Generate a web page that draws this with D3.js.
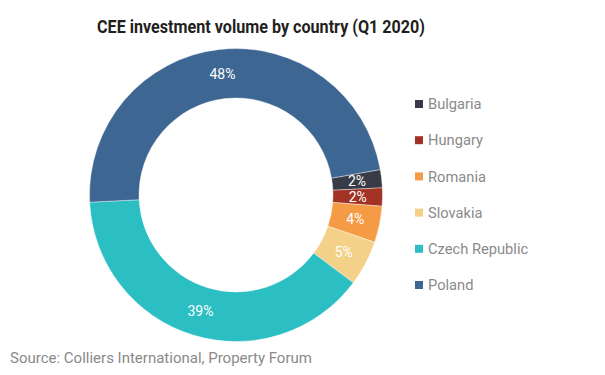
<!DOCTYPE html>
<html>
<head>
<meta charset="utf-8">
<script src="https://cdn.jsdelivr.net/npm/d3@7"></script>
<style>
  body { margin: 0; background: #fff; }
  svg { display: block; font-family: Roboto, "Noto Sans", sans-serif; }
</style>
</head>
<body>
<div id="chart"></div>
<script>
const countries = ['Bulgaria', 'Hungary', 'Romania', 'Slovakia', 'Czech Republic', 'Poland'];
const shares = [2, 2, 4, 5, 39, 48];
const colors = ['#363b45', '#a23224', '#f59a45', '#f4d188', '#2bbfc3', '#3d6692'];

const width = 605, height = 375;
const cx = 236, cy = 195;
const outerR = 146.5, innerR = 97;

const svg = d3.select('#chart').append('svg')
  .attr('width', width)
  .attr('height', height);

svg.append('text')
  .attr('x', 97)
  .attr('y', 33)
  .attr('textLength', 328)
  .attr('lengthAdjust', 'spacingAndGlyphs')
  .style('font-size', '19px')
  .style('font-weight', 'bold')
  .style('fill', '#231f20')
  .text('CEE investment volume by country (Q1 2020)');

const color = d3.scaleOrdinal().domain(countries).range(colors);

const pie = d3.pie()
  .sort(null)
  .value(d => d.value)
  .startAngle(80 * Math.PI / 180)
  .endAngle(80 * Math.PI / 180 + 2 * Math.PI);

const data = countries.map((c, i) => ({ name: c, value: shares[i] }));

const arc = d3.arc().innerRadius(innerR).outerRadius(outerR);
const labelArc = d3.arc().innerRadius((innerR + outerR) / 2).outerRadius((innerR + outerR) / 2);

const g = svg.append('g').attr('transform', `translate(${cx},${cy})`);

g.selectAll('.slice')
  .data(pie(data))
  .enter().append('path')
    .attr('class', 'slice')
    .attr('d', arc)
    .style('fill', d => color(d.data.name))
    .style('stroke', '#fff')
    .style('stroke-width', 0.4);

g.selectAll('.label')
  .data(pie(data))
  .enter().append('text')
    .attr('class', 'label')
    .attr('transform', d => `translate(${labelArc.centroid(d)})`)
    .attr('text-anchor', 'middle')
    .attr('dy', '0.35em')
    .style('font-size', '14px')
    .style('fill', '#fff')
    .text(d => d.data.value + '%');

// legend
const legend = svg.append('g').attr('transform', 'translate(415,104)');

const item = legend.selectAll('.item')
  .data(countries)
  .enter().append('g')
    .attr('class', 'item')
    .attr('transform', (d, i) => `translate(0,${i * 36.2})`);

item.append('rect')
  .attr('x', 0)
  .attr('y', -4)
  .attr('width', 8)
  .attr('height', 8)
  .style('fill', d => color(d));

item.append('text')
  .attr('x', 13)
  .attr('dy', '0.35em')
  .style('font-size', '14.7px')
  .style('fill', '#8a8a8a')
  .text(d => d);

svg.append('text')
  .attr('x', 10)
  .attr('y', 363)
  .style('font-size', '15px')
  .style('fill', '#8a8a8a')
  .text('Source: Colliers International, Property Forum');
</script>
</body>
</html>
